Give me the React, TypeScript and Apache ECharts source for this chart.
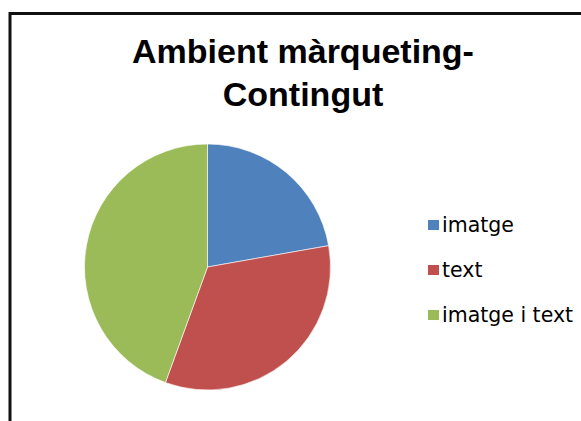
import React, { useEffect, useRef } from "react";
import * as echarts from "echarts";

// Ambient màrqueting – contingut
const categories = ["imatge", "text", "imatge i text"];
const counts = [2, 3, 4];
const colors = ["#4F81BD", "#C0504D", "#9BBB59"];
const titleLines = ["Ambient màrqueting-", "Contingut"];

export default function App() {
  const ref = useRef<HTMLDivElement>(null);

  useEffect(() => {
    if (!ref.current) return;
    const chart = echarts.init(ref.current, undefined, { renderer: "svg" });
    chart.setOption({
      animation: false,
      backgroundColor: "#ffffff",
      title: {
        text: titleLines.join("\n"),
        left: 303,
        textAlign: "center",
        top: 29,
        padding: 0,
        textStyle: {
          fontFamily: "'Liberation Sans', Arial, sans-serif",
          fontSize: 34,
          fontWeight: "bold",
          color: "#000000",
          lineHeight: 43.5,
        },
      },
      legend: {
        orient: "vertical",
        left: 426,
        top: 214.5,
        padding: 0,
        itemWidth: 13,
        itemHeight: 12,
        itemGap: 24,
        icon: "rect",
        selectedMode: false,
        data: categories,
        textStyle: {
          fontFamily: "'DejaVu Sans', sans-serif",
          fontSize: 20.5,
          lineHeight: 21,
          color: "#000000",
          padding: [0, 0, 0, -3],
        },
      },
      graphic: [
        {
          type: "rect",
          shape: { x: 10, y: 13.5, width: 700, height: 500 },
          style: { fill: "none", stroke: "#111111", lineWidth: 3 },
          z: 100,
        },
      ],
      series: [
        {
          type: "pie",
          center: [207.5, 267],
          radius: 123,
          startAngle: 90,
          clockwise: true,
          label: { show: false },
          labelLine: { show: false },
          emphasis: { disabled: true },
          itemStyle: { borderColor: "#ffffff", borderWidth: 0.6 },
          data: categories.map((name, i) => ({
            name,
            value: counts[i],
            itemStyle: { color: colors[i] },
          })),
        },
      ],
    });
    return () => chart.dispose();
  }, []);

  return (
    <div
      ref={ref}
      style={{
        position: "fixed",
        left: 0,
        top: 0,
        width: 581,
        height: 421,
        background: "#ffffff",
      }}
    />
  );
}
